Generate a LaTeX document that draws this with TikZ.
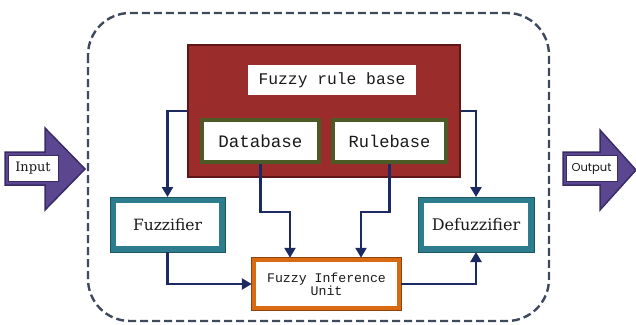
\documentclass[tikz,border=0pt]{standalone}
\usepackage{fontspec}
\setmainfont{DejaVu Serif}
\newfontfamily\monof{Liberation Mono}
\newfontfamily\slabf{DejaVu Serif}
\newfontfamily\geof{Poppins}
\usetikzlibrary{arrows.meta}
\definecolor{brick}{HTML}{9A2C2C}
\definecolor{brickdk}{HTML}{5E1616}
\definecolor{olive}{HTML}{4E5A26}
\definecolor{tealb}{HTML}{2E7D8E}
\definecolor{tealdk}{HTML}{1E5562}
\definecolor{orng}{HTML}{D96A12}
\definecolor{orngdk}{HTML}{8A4410}
\definecolor{navy}{HTML}{1B2A60}
\definecolor{dashc}{HTML}{3E4A5C}
\definecolor{purp}{HTML}{5B4790}
\definecolor{purpdk}{HTML}{3A2B66}
\definecolor{txt}{HTML}{1A1A1A}
\tikzset{
  box/.style={rectangle, inner sep=0pt, align=center, text=txt},
  greenbox/.style={box, fill=white, draw=olive, line width=3.5pt},
  tealbox/.style={box, fill=white, draw=tealb, line width=6pt},
  orangebox/.style={box, fill=white, draw=orng, line width=4.5pt},
  conn/.style={draw=navy, line width=2.5pt, -{Triangle[length=10pt,width=11pt]}},
  bigarrow/.style={fill=purp, draw=purpdk, line width=1.5pt, line join=miter},
  lab/.style={box, fill=white, draw=purpdk, line width=0.6pt}
}
\begin{document}
\begin{tikzpicture}[x=1pt,y=-1pt]
\useasboundingbox (0,0) rectangle (636,324);
% dashed boundary
\draw[dashc, line width=2.4pt, dash pattern=on 8pt off 4pt, rounded corners=42pt] (88,13) rectangle (549,321);
% rule base container
\node[box, fill=brick, draw=brickdk, line width=2pt, minimum width=272pt, minimum height=132pt] (rb) at (324,111) {};
\node[box, fill=white, minimum width=168pt, minimum height=30pt, font=\monof\fontsize{16.3}{18}\selectfont] (rbl) at (332,80) {Fuzzy rule base};
\node[greenbox, minimum width=117pt, minimum height=42pt, font=\monof\fontsize{17.5}{18}\selectfont] (db) at (260.5,141) {Database};
\node[greenbox, minimum width=113pt, minimum height=42pt, font=\monof\fontsize{17}{18}\selectfont] (rl) at (389.5,141) {Rulebase};
% fuzzifier / defuzzifier
\node[tealbox, minimum width=109pt, minimum height=49pt, font=\slabf\fontsize{15.5}{16}\selectfont] (fz) at (167.5,224.5) {Fuzzifier};
\draw[tealdk, line width=0.8pt] (fz.north west) rectangle (fz.south east);
\node[tealbox, minimum width=110pt, minimum height=49pt, font=\slabf\fontsize{16}{16}\selectfont] (dz) at (476,224.5) {Defuzzifier};
\draw[tealdk, line width=0.8pt] (dz.north west) rectangle (dz.south east);
% inference unit
\node[orangebox, minimum width=145pt, minimum height=48pt, font=\monof\fontsize{13.2}{13}\selectfont] (fiu) at (326.5,284) {Fuzzy Inference\\Unit};
\draw[orngdk, line width=0.6pt] (fiu.north west) rectangle (fiu.south east);
% junctions
\coordinate (j1) at (290,212);
\coordinate (j2) at (361,212);
% connectors
\draw[conn] (rb.west) -| (fz.north);
\draw[conn] (rb.east) -| (dz.north);
\draw[conn] (db.south) |- (j1) -- (j1 |- fiu.north);
\draw[conn] (rl.south) |- (j2) -- (j2 |- fiu.north);
\draw[conn] (fz.south) |- (fiu.west);
\draw[conn] (fiu.east) -| (dz.south);
% input / output arrows
\draw[bigarrow] (5,152) -- (45,152) -- (45,128) -- (85,169) -- (45,210) -- (45,185) -- (5,185) -- cycle;
\node[lab, minimum width=50pt, minimum height=26pt, font=\slabf\fontsize{13}{13}\selectfont] (in) at (33,168.5) {Input};
\draw[bigarrow] (563,152) -- (600,152) -- (600,130) -- (636,170) -- (600,210) -- (600,185) -- (563,185) -- cycle;
\node[lab, minimum width=51pt, minimum height=26pt, font=\geof\fontsize{11.5}{13}\selectfont] (out) at (591.5,168.5) {Output};
\end{tikzpicture}
\end{document}
